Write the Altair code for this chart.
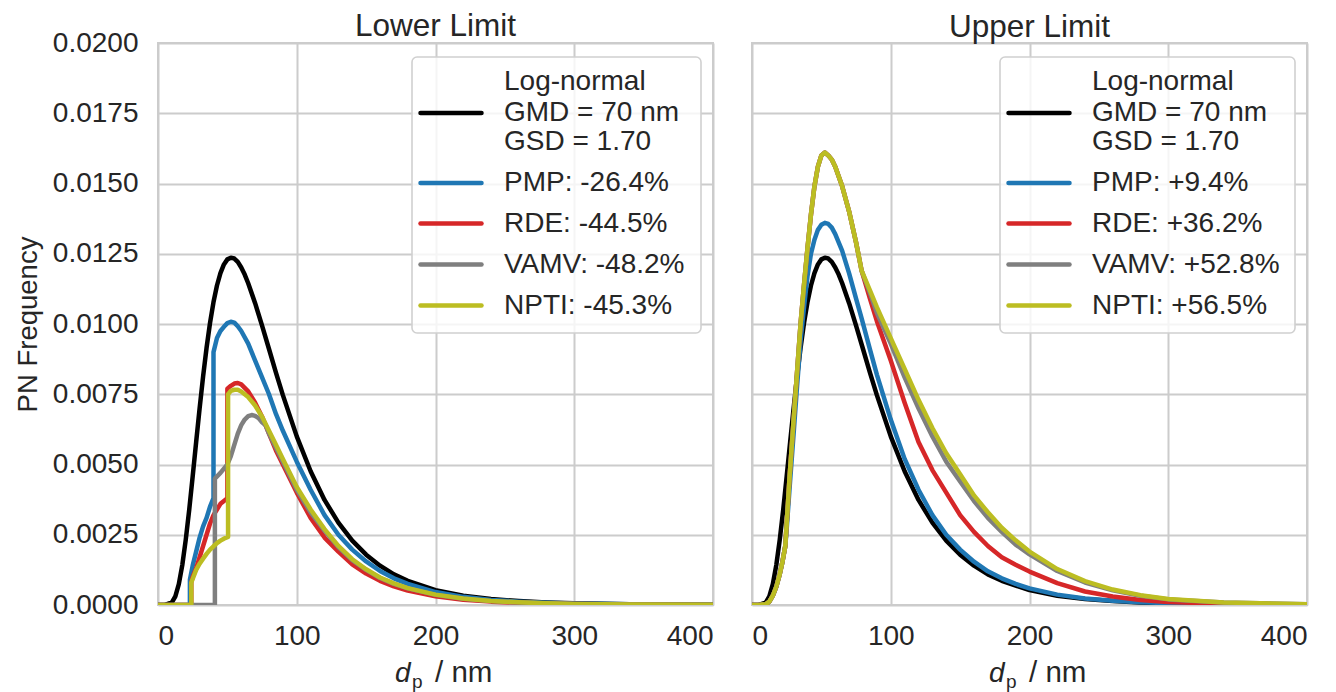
import altair as alt
import pandas as pd

FONT = "Liberation Sans"
TXT = "#262626"
GRID = "#cccccc"

# ---------------- data ----------------
series_keys = ["lognormal", "PMP", "RDE", "VAMV", "NPTI"]
series_colors = ["#000000", "#1f77b4", "#d62728", "#7f7f7f", "#bcbd22"]
lognormal_label = ["Log-normal", "GMD = 70 nm", "GSD = 1.70"]
lower_labels = ["PMP: -26.4%", "RDE: -44.5%", "VAMV: -48.2%", "NPTI: -45.3%"]
upper_labels = ["PMP: +9.4%", "RDE: +36.2%", "VAMV: +52.8%", "NPTI: +56.5%"]

x_ticks = [0, 100, 200, 300, 400]
y_ticks = [0, 0.0025, 0.005, 0.0075, 0.01, 0.0125, 0.015, 0.0175, 0.02]

lognorm_x = [0, 5, 10, 12.5, 15, 17.5, 20, 22.5, 25, 27.5, 30, 32.5, 35, 37.5, 40, 42.5, 45, 47.5, 50, 52.5,
             55, 57.5, 60, 62.5, 65, 70, 75, 80, 85, 90, 100, 110, 120, 130, 140, 150, 160, 170, 180,
             200, 220, 240, 260, 280, 300, 340, 400]
lognorm_y = [0, 0.000001, 0.00009, 0.00031, 0.00074, 0.00142, 0.00232, 0.00339, 0.00458, 0.00580,
             0.00700, 0.00813, 0.00915, 0.01004, 0.01078, 0.01137, 0.01181, 0.01212, 0.01230, 0.01236,
             0.01233, 0.01221, 0.01201, 0.01176, 0.01145, 0.01074, 0.00994, 0.00911, 0.00827, 0.00747,
             0.00600, 0.00476, 0.00374, 0.00293, 0.00229, 0.00179, 0.00140, 0.00109, 0.00086,
             0.00053, 0.00033, 0.00021, 0.00014, 0.00009, 0.00006, 0.000026, 0.0000085]

# Lower limit panel
low_pmp_x = [0, 23, 23, 25, 27.5, 30, 32.5, 35, 37.5, 40, 40, 42.5, 45, 47.5, 50, 52.5, 55, 57.5, 60, 65,
             70, 75, 80, 85, 90, 100, 110, 120, 130, 140, 150, 160, 170, 180, 200, 220, 240, 260, 280, 300,
             340, 400]
low_pmp_y = [0, 0, 0.0009, 0.0014, 0.0019, 0.0024, 0.0028, 0.0031, 0.0035, 0.0038,
             0.0090, 0.0095, 0.00975, 0.0099, 0.01003, 0.01008, 0.01005, 0.00992, 0.00975, 0.0093,
             0.0087, 0.0081, 0.0075, 0.0068, 0.0062, 0.0051, 0.0041, 0.0032, 0.0025, 0.00197,
             0.00155, 0.00121, 0.00095, 0.00075, 0.00046, 0.00029, 0.00018, 0.00012, 0.00008, 0.00005,
             0.000023, 0.0000075]

low_rde_x = [0, 24, 24, 25, 27.5, 30, 32.5, 35, 37.5, 40, 42.5, 45, 47.5, 50, 50, 52.5, 55, 57.5, 60, 65,
             70, 75, 80, 85, 90, 100, 110, 120, 130, 140, 150, 160, 170, 180, 200, 220, 240, 260, 280, 300,
             340, 400]
low_rde_y = [0, 0, 0.0008, 0.0010, 0.0013, 0.0017, 0.0021, 0.0025, 0.0029, 0.0032,
             0.0034, 0.0036, 0.0037, 0.0038, 0.0077, 0.0078, 0.00788, 0.0079, 0.00785, 0.0076,
             0.0072, 0.0067, 0.0061, 0.0055, 0.0050, 0.0040, 0.0031, 0.0024, 0.0019, 0.00145,
             0.00112, 0.00086, 0.00066, 0.00051, 0.00031, 0.00019, 0.00012, 0.00008, 0.00005, 0.000033,
             0.000014, 0.000004]

low_vamv_x = [0, 41, 41, 45, 50, 52.5, 55, 57.5, 60, 62.5, 65, 67.5, 70, 72.5, 75, 77.5, 80, 85, 90, 100,
              110, 120, 130, 140, 150, 160, 170, 180, 200, 220, 240, 260, 280, 300, 340, 400]
low_vamv_y = [0, 0, 0.0045, 0.0047, 0.0050, 0.0053, 0.0057, 0.0061, 0.0064, 0.0066,
              0.00672, 0.00676, 0.00673, 0.00665, 0.0065, 0.0064, 0.0061, 0.0056, 0.0051, 0.0041,
              0.0033, 0.00265, 0.00206, 0.0016, 0.00125, 0.00096, 0.00075, 0.00059,
              0.00036, 0.000225, 0.00014, 0.000093, 0.00006, 0.00004, 0.000018, 0.000006]

low_npti_x = [0, 24, 24, 27.5, 30, 32.5, 35, 37.5, 40, 42.5, 45, 47.5, 50.5, 50.5, 52.5, 55, 57.5, 60, 65, 70,
              75, 80, 85, 90, 100, 110, 120, 130, 140, 150, 160, 170, 180, 200, 220, 240, 260, 280, 300, 340,
              400]
low_npti_y = [0, 0, 0.0008, 0.00125, 0.00147, 0.00165, 0.00182, 0.00197, 0.00209, 0.0022,
              0.00229, 0.00236, 0.00242, 0.0075, 0.00762, 0.00766, 0.00766, 0.00760, 0.0074, 0.0071,
              0.0067, 0.0062, 0.0057, 0.0052, 0.0042, 0.0034, 0.0027, 0.0021, 0.00163, 0.00127,
              0.00098, 0.00077, 0.0006, 0.00037, 0.00023, 0.000145, 0.000095, 0.00006, 0.00004, 0.000018,
              0.000006]

# Upper limit panel
up_x = [0, 5, 10, 12.5, 15, 17.5, 20, 22, 24, 25, 26, 27, 30, 32.5, 35, 37.5, 40, 42.5, 45, 47.5,
        50, 52.5, 55, 57.5, 60, 65, 70, 75, 79, 85, 90, 100, 110, 120, 130, 140, 150, 160, 170, 180,
        190, 200, 220, 240, 260, 280, 300, 340, 400]
up_pmp_y = [0, 0, 0.00003, 0.00012, 0.00033, 0.00065, 0.0011, 0.00155, 0.0021, 0.0027,
            0.0034, 0.0041, 0.0061, 0.0078, 0.0094, 0.0106, 0.0117, 0.0125, 0.0130, 0.01335,
            0.01353, 0.0136, 0.01356, 0.01343, 0.0132, 0.0126, 0.0118, 0.0109, 0.0102, 0.0091,
            0.0082, 0.0066, 0.0052, 0.0041, 0.0032, 0.0025, 0.00197, 0.00154, 0.0012, 0.00095,
            0.00075, 0.00059, 0.00037, 0.00023, 0.00015, 0.0001, 0.000065, 0.00003, 0.00001]
up_rde_y = [0, 0, 0.00003, 0.00012, 0.00033, 0.00065, 0.0011, 0.00155, 0.0021, 0.0029,
            0.0037, 0.0045, 0.0066, 0.0083, 0.0100, 0.0114, 0.0127, 0.0139, 0.0149, 0.0156,
            0.0160, 0.0161, 0.0160, 0.01585, 0.0156, 0.0149, 0.0140, 0.0129, 0.0119, 0.0109,
            0.0101, 0.0087, 0.0072, 0.0058, 0.0048, 0.0040, 0.0032, 0.0026, 0.0021, 0.0017,
            0.00143, 0.00119, 0.00078, 0.00048, 0.0003, 0.00018, 0.00011, 0.00004, 0.00001]
up_vamv_y = [0, 0, 0.00003, 0.00012, 0.00033, 0.00065, 0.0011, 0.00155, 0.0021, 0.0029,
             0.0037, 0.0045, 0.0066, 0.0083, 0.0100, 0.0114, 0.0127, 0.0139, 0.0149, 0.0156,
             0.0160, 0.0161, 0.0160, 0.01585, 0.0156, 0.0149, 0.0140, 0.0129, 0.0119, 0.0111,
             0.0104, 0.0093, 0.0081, 0.0070, 0.0060, 0.0051, 0.0044, 0.0037, 0.0031, 0.0026,
             0.00215, 0.0018, 0.00121, 0.0008, 0.00052, 0.00033, 0.0002, 0.000085, 0.000028]
up_npti_y = [0, 0, 0.00003, 0.00012, 0.00033, 0.00065, 0.0011, 0.00155, 0.0021, 0.0029,
             0.0037, 0.0045, 0.0066, 0.0083, 0.0100, 0.0114, 0.0127, 0.0139, 0.0149, 0.0156,
             0.0160, 0.0161, 0.0160, 0.01585, 0.0156, 0.0149, 0.0140, 0.0129, 0.0119, 0.0112,
             0.0106, 0.0095, 0.0084, 0.0073, 0.0063, 0.0054, 0.00465, 0.0039, 0.0033, 0.00275,
             0.0023, 0.0019, 0.00128, 0.00085, 0.00055, 0.00035, 0.00021, 0.00009, 0.00003]

# ---------------- build tables ----------------
def table(pairs):
    rows = []
    for k, (xs, ys) in enumerate(pairs):
        for i, (xv, yv) in enumerate(zip(xs, ys)):
            rows.append({"d": xv, "v": yv, "series": series_keys[k], "k": k, "i": i})
    return pd.DataFrame(rows)

lower_df = table([(lognorm_x, lognorm_y), (low_pmp_x, low_pmp_y), (low_rde_x, low_rde_y),
                  (low_vamv_x, low_vamv_y), (low_npti_x, low_npti_y)])
upper_df = table([(lognorm_x, lognorm_y), (up_x, up_pmp_y), (up_x, up_rde_y),
                  (up_x, up_vamv_y), (up_x, up_npti_y)])

W, H = 555, 562
LEG_FS = 28
# legend layout (pixels inside the plot area)
LEG_RIGHT, LEG_TOP, LEG_BOTTOM = 543, 14, 290
SYM_Y = [70, 140, 180.5, 221.5, 262.5]
TXT_Y = [39, 70, 99, 140, 180.5, 221.5, 262.5]


def legend_layers(labels, lx):
    box = alt.Chart(pd.DataFrame({"a": [0]})).mark_rect(
        cornerRadius=5, fill="white", fillOpacity=0.8, stroke="#d0d0d0", strokeWidth=1.6
    ).encode(x=alt.value(lx), x2=alt.value(LEG_RIGHT), y=alt.value(LEG_TOP), y2=alt.value(LEG_BOTTOM))
    sym = pd.DataFrame({"x1": [lx + 8.5] * 5, "x2": [lx + 69.5] * 5, "y": SYM_Y, "c": series_colors})
    syms = alt.Chart(sym).mark_rule(strokeWidth=4.5, strokeCap="round").encode(
        x=alt.X("x1:Q", scale=None, axis=None), x2="x2:Q",
        y=alt.Y("y:Q", scale=None, axis=None), color=alt.Color("c:N", scale=None),
    )
    txt = pd.DataFrame({"t": lognormal_label + labels, "y": TXT_Y, "x": [lx + 92] * 7})
    texts = alt.Chart(txt).mark_text(
        font=FONT, fontSize=LEG_FS, align="left", baseline="middle", color=TXT
    ).encode(x=alt.X("x:Q", scale=None, axis=None), y=alt.Y("y:Q", scale=None, axis=None), text="t:N")
    return [box, syms, texts]


def panel(df, labels, title, show_y, lx, title_offset):
    if show_y:
        yaxis = alt.Axis(values=y_ticks, format=".4f", title="PN Frequency", grid=True)
    else:
        yaxis = alt.Axis(values=y_ticks, title=None, labels=False, grid=True)
    lines = alt.Chart(df).mark_line(strokeWidth=4.5, clip=True, strokeJoin="round").encode(
        x=alt.X("d:Q", scale=alt.Scale(domain=[0, 400], nice=False),
                axis=alt.Axis(values=x_ticks, title=None, grid=True)),
        y=alt.Y("v:Q", scale=alt.Scale(domain=[0, 0.02], nice=False), axis=yaxis),
        color=alt.Color("series:N", scale=alt.Scale(domain=series_keys, range=series_colors), legend=None),
        order="i:Q",
        detail="k:N",
    )
    x0 = 237
    t_d = alt.Chart(pd.DataFrame({"t": ["d"]})).mark_text(
        font=FONT, fontSize=28, fontStyle="italic", align="left", baseline="alphabetic", color=TXT
    ).encode(x=alt.value(x0), y=alt.value(H + 77), text="t:N")
    t_p = alt.Chart(pd.DataFrame({"t": ["p"]})).mark_text(
        font=FONT, fontSize=19, align="left", baseline="alphabetic", color=TXT
    ).encode(x=alt.value(x0 + 17), y=alt.value(H + 83), text="t:N")
    t_nm = alt.Chart(pd.DataFrame({"t": ["/ nm"]})).mark_text(
        font=FONT, fontSize=29.5, align="left", baseline="alphabetic", color=TXT
    ).encode(x=alt.value(x0 + 40), y=alt.value(H + 77), text="t:N")
    return alt.layer(lines, *legend_layers(labels, lx), t_d, t_p, t_nm).properties(
        width=W, height=H,
        title=alt.TitleParams(title, fontSize=31.5, fontWeight="normal", font=FONT, color=TXT,
                              offset=title_offset),
    )


left = panel(lower_df, lower_labels, "Lower Limit", True, 254, -13)
right = panel(upper_df, upper_labels, "Upper Limit", False, 248, 0)

chart = alt.hconcat(left, right, spacing=39, bounds="flush").properties(
    padding={"left": 5, "top": 1, "right": 5, "bottom": 0}
).configure_view(
    stroke=GRID, strokeWidth=2
).configure_axis(
    labelFont=FONT, labelFontSize=28, labelColor=TXT, titleFont=FONT, titleFontSize=27.5,
    titleFontWeight="normal", titleColor=TXT, gridColor=GRID, gridWidth=2, ticks=False,
    domain=False, labelPadding=20, titlePadding=10,
).configure_axisX(labelPadding=17)

chart.save("out.html", embed_options={"renderer": "svg", "actions": False})
